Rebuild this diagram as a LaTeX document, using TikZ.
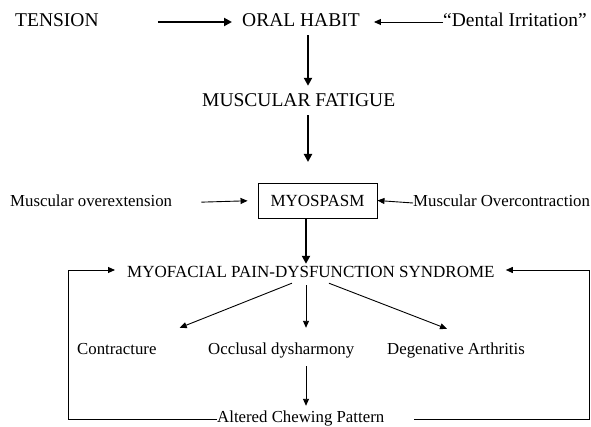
\documentclass[tikz,border=0pt]{standalone}
\usepackage{fontspec}
\setmainfont{Liberation Serif}
\usetikzlibrary{arrows.meta,calc}
\tikzset{
  big/.style={inner sep=0pt, anchor=base west, font=\fontsize{19.5}{22}\selectfont, text height=13pt, text depth=3pt},
  mid/.style={inner sep=0pt, anchor=base west, font=\fontsize{17}{20}\selectfont, text height=12pt, text depth=4pt},
  small/.style={inner sep=0pt, anchor=base west, font=\fontsize{16.8}{20}\selectfont, text height=12pt, text depth=4pt},
  boxed/.style={draw, line width=0.9pt, inner sep=0pt, minimum width=119pt, minimum height=35pt, font=\fontsize{17}{20}\selectfont},
  thin/.style={line width=0.9pt, -{Triangle[length=7pt,width=6pt]}},
  thick/.style={line width=2.4pt, -{Triangle[length=8pt,width=8pt]}},
  plain/.style={line width=0.9pt}
}
\begin{document}
\begin{tikzpicture}[x=1pt,y=-1pt]
\useasboundingbox (0,0) rectangle (591,427);
% nodes
\node[big] (tension) at (15,27) {TENSION};
\node[big] (oral) at (242,27) {ORAL HABIT};
\node[big] (dental) at (443,27) {“Dental Irritation”};
\node[big] (fatigue) at (202,107) {MUSCULAR FATIGUE};
\node[boxed] (myo) at (317.5,200.5) {MYOSPASM};
\node[small] (overext) at (10,207) {Muscular overextension};
\node[small] (overcon) at (413,207) {Muscular Overcontraction};
\node[mid] (mpds) at (127,278) {MYOFACIAL PAIN-DYSFUNCTION SYNDROME};
\node[small] (contr) at (77,354) {Contracture};
\node[small] (occl) at (208,354) {Occlusal dysharmony};
\node[small] (degen) at (387,354) {Degenative Arthritis};
\node[small, text height=12pt, text depth=6pt] (altered) at (217,422) {Altered Chewing Pattern};
\coordinate (cl) at (68,270);
\coordinate (cr) at (589,270);
\coordinate (ax) at (308,0);
\coordinate (bx) at (306,0);
\coordinate (fe) at (308,162);
% connectors
\draw[thick, shorten <=59pt, shorten >=10pt] (tension.east) -- (oral.west);
\draw[thin, shorten >=14pt] (dental.west) -- (oral.east);
\draw[thick, shorten <=5pt, shorten >=8pt] (oral.south -| ax) -- (fatigue.north -| ax);
\draw[thick, shorten <=5pt] (fatigue.south -| ax) -- (fe);
\draw[thin, shorten <=29pt, shorten >=10pt] (overext.east) -- (myo.west);
\draw[thin] (overcon.west) -- (myo.east);
\draw[thick, shorten >=2pt] (myo.south -| bx) -- (mpds.north -| bx);
\draw[thin, shorten >=12pt] (altered.west) -| (cl) -- (cl -| mpds.west);
\draw[thin, shorten <=30pt, shorten >=11pt] (altered.east) -| (cr) -- (cr -| mpds.east);
\draw[thin] ($(mpds.south)+(-19,1)$) -- ($(contr.north east)+(23,-14)$);
\draw[thin, shorten <=3pt, shorten >=14pt] (mpds.south -| bx) -- (occl.north -| bx);
\draw[thin] ($(mpds.south)+(18,1)$) -- ($(degen.north west)+(60,-13)$);
\draw[thin, shorten <=8pt, shorten >=4pt] (occl.south -| bx) -- (altered.north -| bx);
\end{tikzpicture}
\end{document}
